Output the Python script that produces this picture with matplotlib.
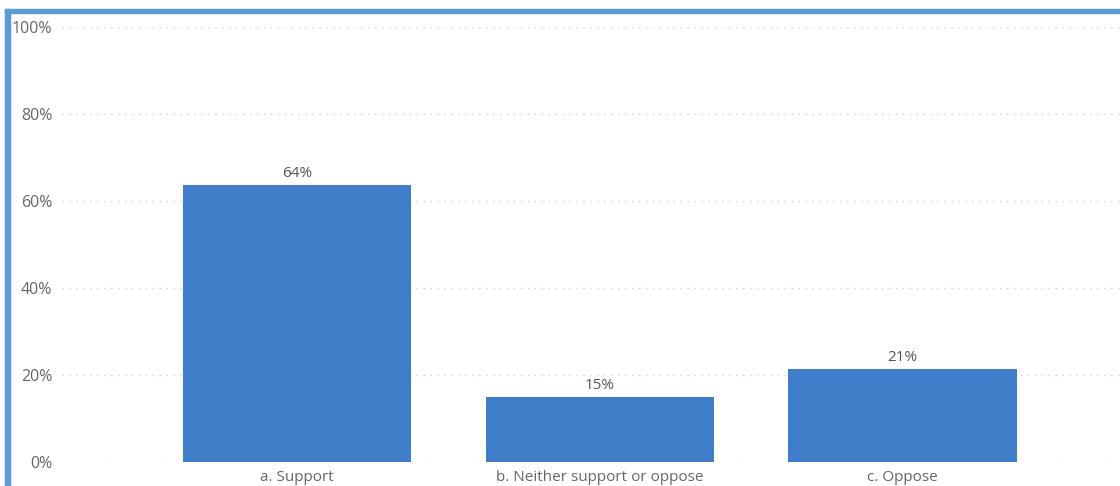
import matplotlib
matplotlib.use("Agg")
import matplotlib.pyplot as plt
from matplotlib.patches import Rectangle

categories = ["a. Support", "b. Neither support or oppose", "c. Oppose"]
values = [63.7, 14.9, 21.4]
value_labels = ["64%", "15%", "21%"]
y_ticks = [0, 20, 40, 60, 80, 100]
y_tick_labels = ["0%", "20%", "40%", "60%", "80%", "100%"]

plt.rcParams["font.family"] = ["Open Sans", "DejaVu Sans"]

W, H = 1120, 486
fig = plt.figure(figsize=(W / 100, H / 100), dpi=100)
fig.patch.set_facecolor("white")

# plot area in pixel coordinates
left_px, right_px = 62, 1120
top_px, bottom_px = 27, 462
ax = fig.add_axes([left_px / W, 1 - bottom_px / H,
                   (right_px - left_px) / W, (bottom_px - top_px) / H])

bar_color = "#3F7DC8"
x = list(range(len(categories)))
ax.bar(x, values, width=0.755, color=bar_color, zorder=3)

for xi, v, lab in zip(x, values, value_labels):
    ax.annotate(lab, (xi, v), xytext=(0, 3), textcoords="offset points",
                ha="center", va="bottom", fontsize=11, color="#555555")

ax.set_xlim(-0.777, 2.719)
ax.set_ylim(0, 100)
ax.set_yticks(y_ticks)
ax.set_yticklabels(y_tick_labels)
ax.set_xticks(x)
ax.set_xticklabels(categories)

ax.grid(axis="y", linestyle=(0, (1, 4)), color="#D0D0D0", linewidth=1.0, zorder=0)
ax.tick_params(axis="both", length=0, colors="#666666")
ax.tick_params(axis="y", pad=7, labelsize=11.5)
ax.tick_params(axis="x", pad=6, labelsize=11)
for s in ax.spines.values():
    s.set_visible(False)

# blue frame along the top and left edge of the visual
frame_color = "#5B9BD5"
fig.patches.append(Rectangle((5 / W, 0), 5 / W, 1 - 9 / H,
                             transform=fig.transFigure, color=frame_color, zorder=10))
fig.patches.append(Rectangle((5 / W, 1 - 13 / H), 1 - 5 / W, 4 / H,
                             transform=fig.transFigure, color=frame_color, zorder=10))

fig.savefig("out.png", dpi=100, facecolor="white")
